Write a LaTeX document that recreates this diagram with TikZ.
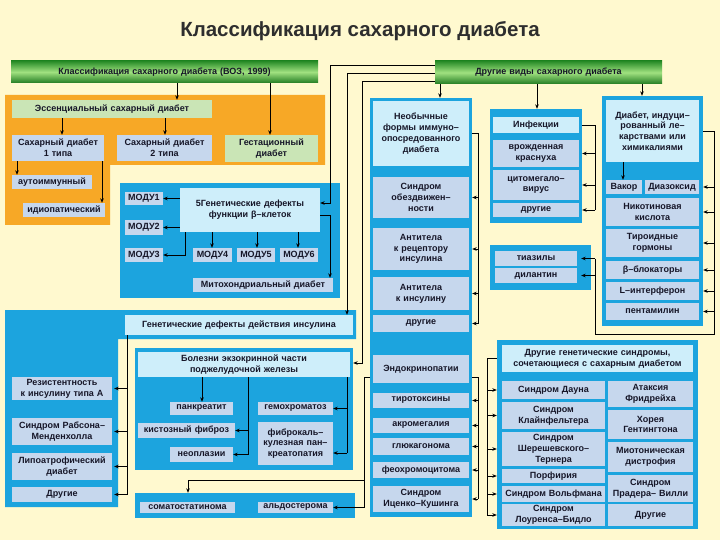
\documentclass[tikz,border=0pt]{standalone}
\usepackage{fontspec}
\setmainfont{Liberation Sans}
\usetikzlibrary{arrows.meta}
\definecolor{bg}{RGB}{255,249,207}
\definecolor{orng}{RGB}{247,168,38}
\definecolor{pblue}{RGB}{28,164,222}
\definecolor{lcyan}{RGB}{206,238,250}
\definecolor{lblue}{RGB}{198,215,237}
\definecolor{lgreen}{RGB}{202,229,182}
\definecolor{txt}{RGB}{22,22,40}
\definecolor{gdark}{RGB}{38,138,38}
\definecolor{glight}{RGB}{160,225,128}
\newcommand\labf{\fontsize{9}{10.8}\selectfont\bfseries}
\newcommand\bx[7]{%
 \pgfmathsetmacro\bxw{#4-#2}%
 \pgfmathsetmacro\bxh{#5-#3}%
 \pgfmathsetmacro\bxt{#4-#2-2}%
 \node[#6, minimum width=\bxw pt, minimum height=\bxh pt, text width=\bxt pt] (#1) at ({(#2+#4)/2},{(#3+#5)/2}) {#7};}
\begin{document}
\begin{tikzpicture}[x=1pt,y=-1pt,
 box/.style={draw=none, inner sep=1pt, align=center, font=\labf, text=txt},
 lb/.style={box, fill=lblue},
 hd/.style={box, fill=lcyan},
 gr/.style={box, fill=lgreen},
 panel/.style={box, fill=pblue},
 gbar/.style={box, top color=gdark, bottom color=gdark!90!black, middle color=glight},
 ln/.style={line width=0.7pt, draw=black},
 arr/.style={ln, -{Stealth[length=4.5pt,width=3.6pt]}},
 title/.style={font=\fontsize{20.5}{24}\selectfont\bfseries, text=black!82}]
\fill[bg] (0,0) rectangle (720,540);
\node[title] (title) at (360,31) {Классификация сахарного диабета};
\bx{who}{11}{61}{318}{83}{gbar}{Классификация сахарного диабета (ВОЗ, 1999)}
\bx{oth}{435}{61}{662}{84}{gbar}{Другие виды сахарного диабета}
% orange block
\fill[orng] (5,95) -- (325,95) -- (325,165) -- (110,165) -- (110,225) -- (5,225) -- cycle;
\bx{ess}{12}{100}{212}{118}{gr}{Эссенциальный сахарный диабет}
\bx{t1}{12}{135}{104}{161}{lb}{Сахарный диабет\\1 типа}
\bx{t2}{117}{135}{212}{161}{lb}{Сахарный диабет\\2 типа}
\bx{gest}{225}{135}{318}{162}{gr}{Гестационный\\диабет}
\bx{auto}{12}{175}{92}{189}{lb}{аутоиммунный}
\bx{idio}{23}{203}{105}{217}{lb}{идиопатический}
% MODY block
\bx{modP}{120}{183}{340}{298}{panel}{}
\bx{gen}{180}{188}{320}{232}{hd}{5Генетические дефекты\\функции β–клеток}
\bx{m1}{125}{192}{163}{205}{lb}{МОДУ1}
\bx{m2}{125}{220}{163}{235}{lb}{МОДУ2}
\bx{m3}{125}{248}{163}{262}{lb}{МОДУ3}
\bx{m4}{193}{248}{232}{262}{lb}{МОДУ4}
\bx{m5}{237}{248}{275}{262}{lb}{МОДУ5}
\bx{m6}{280}{248}{318}{262}{lb}{МОДУ6}
\bx{mito}{193}{278}{333}{292}{lb}{Митохондриальный диабет}
% insulin action block
\fill[pblue] (5,310) -- (356,310) -- (356,339) -- (118,339) -- (118,507) -- (5,507) -- cycle;
\bx{act}{125}{315}{353}{335}{hd}{Генетические дефекты действия инсулина}
\bx{res}{12}{377}{112}{400}{lb}{Резистентность\\к инсулину типа А}
\bx{rab}{12}{418}{112}{445}{lb}{Синдром Рабсона–\\Менденхолла}
\bx{lipo}{12}{453}{112}{480}{lb}{Липоатрофический\\диабет}
\bx{oth2}{12}{487}{112}{502}{lb}{Другие}
% exocrine block
\bx{exoP}{135}{348}{353}{470}{panel}{}
\bx{exo}{138}{352}{350}{377}{hd}{Болезни экзокринной части\\поджелудочной железы}
\bx{pank}{170}{402}{233}{415}{lb}{панкреатит}
\bx{gem}{258}{402}{333}{415}{lb}{гемохроматоз}
\bx{kist}{138}{423}{235}{438}{lb}{кистозный фиброз}
\bx{neo}{170}{447}{233}{462}{lb}{неоплазии}
\bx{fib}{258}{422}{333}{465}{lb}{фиброкаль–\\кулезная пан–\\креатопатия}
\bx{somaP}{135}{493}{355}{518}{panel}{}
\bx{soma}{140}{502}{235}{513}{lb}{соматостатинома}
\bx{aldo}{258}{502}{333}{513}{lb}{альдостерома}
% column 1
\bx{c1P}{370}{98}{472}{517}{panel}{}
\bx{nec}{373}{101}{469}{166}{hd}{Необычные\\формы иммуно–\\опосредованного\\диабета}
\bx{imm}{373}{177}{469}{218}{lb}{Синдром\\обездвижен–\\ности}
\bx{ab1}{373}{228}{469}{270}{lb}{Антитела\\к рецептору\\инсулина}
\bx{ab2}{373}{277}{469}{310}{lb}{Антитела\\к инсулину}
\bx{dr1}{373}{315}{469}{332}{lb}{другие}
\bx{endo}{373}{355}{469}{383}{lb}{Эндокринопатии}
\bx{tir}{373}{393}{469}{408}{lb}{тиротоксины}
\bx{akr}{373}{418}{469}{433}{lb}{акромегалия}
\bx{glu}{373}{438}{469}{455}{lb}{глюкагонома}
\bx{feo}{373}{462}{469}{478}{lb}{феохромоцитома}
\bx{ice}{373}{486}{469}{512}{lb}{Синдром\\Иценко–Кушинга}
% column 2
\bx{c2P}{490}{109}{582}{223}{panel}{}
\bx{inf}{493}{117}{579}{133}{hd}{Инфекции}
\bx{kra}{493}{140}{579}{167}{lb}{врожденная\\краснуха}
\bx{cmv}{493}{170}{579}{200}{lb}{цитомегало–\\вирус}
\bx{dr2}{493}{203}{579}{217}{lb}{другие}
\bx{tiaP}{490}{245}{591}{290}{panel}{}
\bx{tia}{495}{251}{577}{266}{lb}{тиазилы}
\bx{dil}{495}{268}{577}{283}{lb}{дилантин}
% right column
\bx{rcP}{602}{96}{703}{326}{panel}{}
\bx{drug}{606}{100}{699}{162}{hd}{Диабет, индуци–\\рованный ле–\\карствами или\\химикалиями}
\bx{vak}{606}{180}{642}{194}{lb}{Вакор}
\bx{dia}{645}{180}{699}{194}{lb}{Диазоксид}
\bx{nik}{606}{198}{699}{226}{lb}{Никотиновая\\кислота}
\bx{tir2}{606}{229}{699}{257}{lb}{Тироидные\\гормоны}
\bx{bb}{606}{261}{699}{279}{lb}{β–блокаторы}
\bx{lif}{606}{282}{699}{300}{lb}{L–интерферон}
\bx{pen}{606}{303}{699}{320}{lb}{пентамилин}
% genetic syndromes
\bx{gsP}{497}{340}{698}{529}{panel}{}
\bx{gsh}{502}{345}{693}{372}{hd}{Другие генетические синдромы,\\сочетающиеся с сахарным диабетом}
\bx{down}{502}{381}{605}{399}{lb}{Синдром Дауна}
\bx{klai}{502}{402}{605}{429}{lb}{Синдром\\Клайнфельтера}
\bx{sher}{502}{432}{605}{466}{lb}{Синдром\\Шерешевского–\\Тернера}
\bx{porf}{502}{469}{605}{483}{lb}{Порфирия}
\bx{volf}{502}{486}{605}{502}{lb}{Синдром Вольфмана}
\bx{lou}{502}{504}{605}{526}{lb}{Синдром\\Лоуренса–Бидло}
\bx{atak}{608}{381}{693}{407}{lb}{Атаксия\\Фридрейха}
\bx{hor}{608}{410}{693}{439}{lb}{Хорея\\Гентингтона}
\bx{mio}{608}{442}{693}{472}{lb}{Миотоническая\\дистрофия}
\bx{prad}{608}{475}{693}{502}{lb}{Синдром\\Прадера– Вилли}
\bx{dr3}{608}{504}{693}{526}{lb}{Другие}
% ---------- connectors ----------
\draw[arr] (177,0 |- who.south) -- (177,0 |- ess.north);
\draw[arr] (270,0 |- who.south) -- (270,0 |- gest.north);
\draw[arr] (62,0 |- ess.south) -- (62,0 |- t1.north);
\draw[arr] (165,0 |- ess.south) -- (165,0 |- t2.north);
\draw[arr] (17,0 |- t1.south) -- (17,0 |- auto.north);
\draw[arr] (102,0 |- t1.south) -- (102,0 |- idio.north);
\draw[arr] (440,0 |- oth.south) -- (440,0 |- c1P.north);
\draw[arr] (537,0 |- oth.south) -- (537,0 |- c2P.north);
\draw[arr] (642,0 |- oth.south) -- (642,0 |- rcP.north);
\draw[arr] (oth.west |- 0,65) -| (330,203) -- (gen.east |- 0,203);
\draw[arr] (oth.west |- 0,73) -| (347,0 |- act.north);
\draw[arr] (oth.west |- 0,81) -| (362,363) -- (exoP.east |- 0,363);
% MODY
\draw[arr] (gen.west |- m1.east) -- (m1.east);
\draw[arr] (gen.west |- m2.east) -- (m2.east);
\draw[arr] (185,0 |- gen.south) |- (m3.east);
\draw[arr] (212,0 |- gen.south) -- (212,0 |- m4.north);
\draw[arr] (257,0 |- gen.south) -- (257,0 |- m5.north);
\draw[arr] (298,0 |- gen.south) -- (298,0 |- m6.north);
\draw[arr] (gen.east |- 0,215) -| (330,0 |- mito.north);
% insulin action
\draw[ln] (127,0 |- act.south) -- (127,0 |- oth2.east);
\foreach \n in {res,rab,lipo,oth2} \draw[arr] (127,0 |- \n.east) -- ([xshift=2pt]\n.east);
% exocrine
\draw[arr] (202,0 |- exo.south) -- (202,0 |- pank.north);
\draw[ln] (248,0 |- exo.south) -- (248,0 |- neo.east);
\draw[arr] (248,0 |- kist.east) -- (kist.east);
\draw[arr] (248,0 |- neo.east) -- (neo.east);
\draw[ln] (347,0 |- exo.south) -- (347,453);
\draw[arr] (347,0 |- gem.east) -- (gem.east);
\draw[arr] (347,453) -- (fib.east |- 0,453);
% endocrinopathies
\draw[arr] (c1P.west |- 0,377) -| (364,480) -| (188,0 |- somaP.north);
\draw[arr] (364,480) |- (aldo.east);
\draw[ln] (c1P.east |- 0,377) -| (478,0 |- ice.east);
\foreach \n in {tir,akr,glu,feo,ice} \draw[arr] (478,0 |- \n.east) -- (c1P.east |- \n.east);
% unusual immune
\draw[ln] (c1P.east |- nec.east) -| (478,0 |- dr1.east);
\foreach \n in {imm,ab1,ab2,dr1} \draw[arr] (478,0 |- \n.east) -- (c1P.east |- \n.east);
% infections
\draw[ln] (c2P.east |- inf.east) -| (595,0 |- dr2.east);
\foreach \n in {kra,cmv,dr2} \draw[arr] (595,0 |- \n.east) -- (c2P.east |- \n.east);
% drugs
\draw[arr] (623,0 |- drug.south) -- (623,0 |- vak.north);
\draw[ln] (rcP.east |- drug.east) -| (714,334) -| (595,0 |- tia.east);
\foreach \n in {dia,nik,tir2,bb,lif,pen} \draw[arr] (714,0 |- \n.east) -- (rcP.east |- \n.east);
\foreach \n in {tia,dil} \draw[arr] (595,0 |- \n.east) -- ([xshift=4pt]\n.east);
% genetic syndromes
\draw[ln] (gsP.west |- gsh.west) -| (487,0 |- lou.west);
\foreach \n in {down,klai,sher,porf,volf,lou} \draw[arr] (487,0 |- \n.west) -- (gsP.west |- \n.west);
\end{tikzpicture}
\end{document}
